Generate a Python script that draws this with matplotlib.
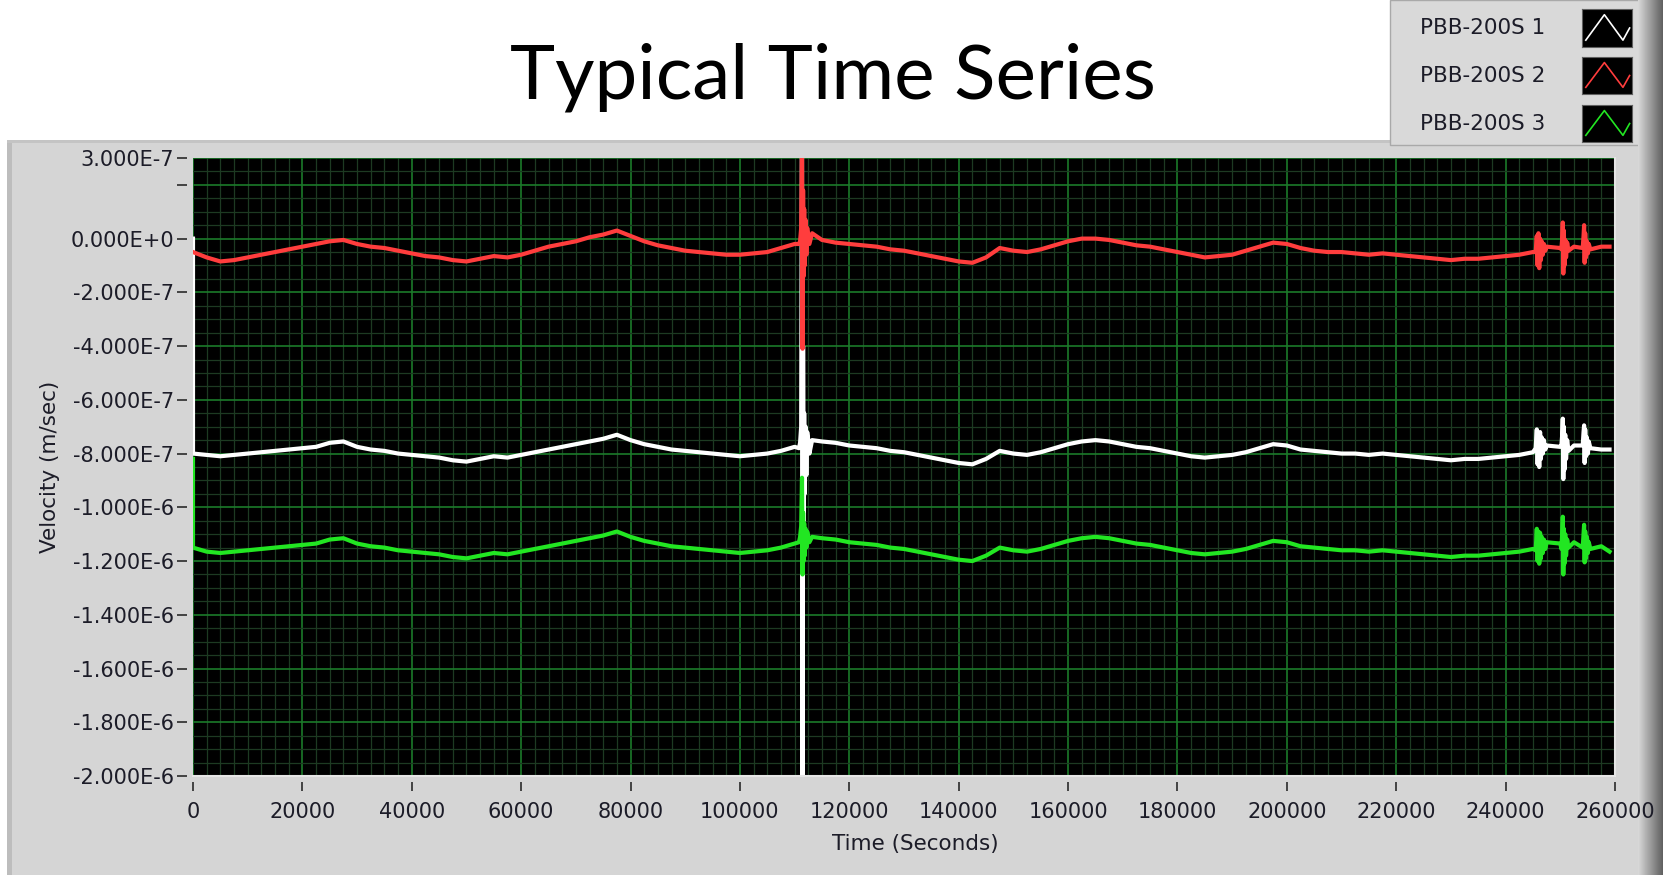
import matplotlib
matplotlib.use("Agg")
import matplotlib.pyplot as plt
from matplotlib.patches import Rectangle
from matplotlib.ticker import MultipleLocator
import numpy as np

# --- data (velocity in units of 1e-7 m/s) ---
# regular samples every 2500 s, t = 0 .. 257500
red_base = [
    -0.5, -0.7, -0.85, -0.8, -0.7, -0.6, -0.5, -0.4,
    -0.3, -0.2, -0.1, -0.05, -0.2, -0.3, -0.35, -0.45,
    -0.55, -0.65, -0.7, -0.8, -0.85, -0.75, -0.65, -0.7,
    -0.6, -0.45, -0.3, -0.2, -0.1, 0.05, 0.15, 0.3,
    0.1, -0.1, -0.25, -0.35, -0.45, -0.5, -0.55, -0.6,
    -0.6, -0.55, -0.5, -0.35, -0.2, 0.1, -0.05, -0.15,
    -0.2, -0.25, -0.3, -0.4, -0.45, -0.55, -0.65, -0.75,
    -0.85, -0.9, -0.7, -0.35, -0.45, -0.5, -0.4, -0.25,
    -0.1, 0.0, 0.0, -0.05, -0.15, -0.25, -0.3, -0.4,
    -0.5, -0.6, -0.7, -0.65, -0.6, -0.45, -0.3, -0.15,
    -0.2, -0.35, -0.45, -0.5, -0.5, -0.55, -0.6, -0.55,
    -0.6, -0.65, -0.7, -0.75, -0.8, -0.75, -0.75, -0.7,
    -0.65, -0.6, -0.5, -0.3, -0.35, -0.3, -0.25, -0.3,
]
white_base = [
    -8.0, -8.05, -8.1, -8.05, -8.0, -7.95, -7.9, -7.85,
    -7.8, -7.75, -7.6, -7.55, -7.75, -7.85, -7.9, -8.0,
    -8.05, -8.1, -8.15, -8.25, -8.3, -8.2, -8.1, -8.15,
    -8.05, -7.95, -7.85, -7.75, -7.65, -7.55, -7.45, -7.3,
    -7.5, -7.65, -7.75, -7.85, -7.9, -7.95, -8.0, -8.05,
    -8.1, -8.05, -8.0, -7.9, -7.75, -7.5, -7.55, -7.6,
    -7.7, -7.75, -7.8, -7.9, -7.95, -8.05, -8.15, -8.25,
    -8.35, -8.4, -8.2, -7.9, -8.0, -8.05, -7.95, -7.8,
    -7.65, -7.55, -7.5, -7.55, -7.65, -7.75, -7.8, -7.9,
    -8.0, -8.1, -8.15, -8.1, -8.05, -7.95, -7.8, -7.65,
    -7.7, -7.85, -7.9, -7.95, -8.0, -8.0, -8.05, -8.0,
    -8.05, -8.1, -8.15, -8.2, -8.25, -8.2, -8.2, -8.15,
    -8.1, -8.05, -7.95, -7.7, -7.75, -7.7, -7.75, -7.85,
]
green_base = [
    -11.5, -11.65, -11.7, -11.65, -11.6, -11.55, -11.5, -11.45,
    -11.4, -11.35, -11.2, -11.15, -11.35, -11.45, -11.5, -11.6,
    -11.65, -11.7, -11.75, -11.85, -11.9, -11.8, -11.7, -11.75,
    -11.65, -11.55, -11.45, -11.35, -11.25, -11.15, -11.05, -10.9,
    -11.1, -11.25, -11.35, -11.45, -11.5, -11.55, -11.6, -11.65,
    -11.7, -11.65, -11.6, -11.5, -11.35, -11.1, -11.15, -11.2,
    -11.3, -11.35, -11.4, -11.5, -11.55, -11.65, -11.75, -11.85,
    -11.95, -12.0, -11.8, -11.5, -11.6, -11.65, -11.55, -11.4,
    -11.25, -11.15, -11.1, -11.15, -11.25, -11.35, -11.4, -11.5,
    -11.6, -11.7, -11.75, -11.7, -11.65, -11.55, -11.4, -11.25,
    -11.3, -11.45, -11.5, -11.55, -11.6, -11.6, -11.65, -11.6,
    -11.65, -11.7, -11.75, -11.8, -11.85, -11.8, -11.8, -11.75,
    -11.7, -11.65, -11.55, -11.3, -11.35, -11.3, -11.35, -11.45,
]
base_time = np.arange(len(red_base)) * 2500.0

# seismic events: start transient, quake near 111500 s, three late bursts
evt_t = [0,
         110800, 111000, 111200, 111350, 111450, 111550, 111650, 111750,
         111850, 112000, 112150, 112300, 112700, 113200,
         245500, 245700, 245850, 246000, 246150, 246300, 246450, 246600,
         246800, 247000, 247250,
         250200, 250350, 250450, 250550, 250650, 250750, 250900, 251050,
         251250, 251500,
         254100, 254250, 254350, 254450, 254550, 254700, 254850, 255050,
         255200, 255500, 259000]
red_evt_v = [-0.5,
             -0.2, -0.1, 0.4, 3.5, -4.1, 1.8, -1.4, 1.1,
             -1.0, 0.7, -0.6, 0.4, -0.2, 0.2,
             -0.5, 0.1, -1.0, 0.2, -1.1, 0.0, -0.8, -0.1,
             -0.6, -0.2, -0.45,
             -0.4, 0.0, 0.6, -1.3, 0.3, -1.0, -0.05, -0.7,
             -0.15, -0.45,
             -0.35, 0.1, 0.5, -0.9, 0.2, -0.7, -0.1, -0.55,
             -0.2, -0.4, -0.3]
white_evt_v = [0.0,
               -7.8, -7.6, -7.0, 5.0, -22.0, -4.0, -10.5, -6.5,
               -9.5, -7.0, -8.8, -7.2, -8.0, -7.5,
               -7.8, -7.1, -8.4, -7.3, -8.5, -7.2, -8.2, -7.4,
               -8.0, -7.5, -7.85,
               -7.7, -7.3, -6.7, -8.95, -7.0, -8.6, -7.3, -8.2,
               -7.5, -7.9,
               -7.7, -7.2, -6.95, -8.35, -7.1, -8.1, -7.4, -8.0,
               -7.55, -7.8, -7.85]
green_evt_v = [-8.2,
               -11.3, -11.1, -10.7, -8.9, -12.5, -10.2, -12.0, -10.6,
               -11.8, -10.8, -11.5, -10.9, -11.3, -11.1,
               -11.6, -10.8, -12.0, -10.9, -12.1, -10.95, -11.9, -11.1,
               -11.7, -11.2, -11.55,
               -11.55, -11.0, -10.35, -12.5, -10.8, -12.1, -11.0, -11.8,
               -11.2, -11.5,
               -11.5, -11.0, -10.65, -12.05, -10.9, -11.9, -11.1, -11.7,
               -11.3, -11.55, -11.65]

series_names = ["PBB-200S 1", "PBB-200S 2", "PBB-200S 3"]
series_colors = ["#ffffff", "#ff3d3d", "#22e622"]

x_ticks = list(range(0, 260001, 20000))
y_ticks = [3e-7, 2e-7, 0.0, -2e-7, -4e-7, -6e-7, -8e-7, -1e-6,
           -1.2e-6, -1.4e-6, -1.6e-6, -1.8e-6, -2e-6]
y_labels = ["3.000E-7", "", "0.000E+0", "-2.000E-7", "-4.000E-7", "-6.000E-7",
            "-8.000E-7", "-1.000E-6", "-1.200E-6", "-1.400E-6", "-1.600E-6",
            "-1.800E-6", "-2.000E-6"]


def build(base, ev):
    # events first so that the start transient sorts ahead of the t=0 sample
    t = np.concatenate([np.asarray(evt_t, float), base_time])
    v = np.concatenate([np.asarray(ev, float), np.asarray(base, float)])
    order = np.argsort(t, kind="stable")
    return t[order], v[order] * 1e-7


W, H = 1663, 875
fig = plt.figure(figsize=(W / 100, H / 100), dpi=100)
fig.patch.set_facecolor("white")


def px_rect(x0, y0, x1, y1, **kw):
    # pixel box measured from the top-left corner
    fig.add_artist(Rectangle((x0 / W, 1 - y1 / H), (x1 - x0) / W, (y1 - y0) / H,
                             transform=fig.transFigure, **kw))


# grey instrument panel
px_rect(7, 140, W, H, facecolor="#d5d5d5", edgecolor="none", zorder=-5)
px_rect(7, 140, 12, H, facecolor="#bdbdbd", edgecolor="none", zorder=-4)
px_rect(7, 140, W, 143, facecolor="#c4c4c4", edgecolor="none", zorder=-4)
px_rect(1390, 0, 1645, 145, facecolor="#d9d9d9", edgecolor="#a9a9a9", lw=1, zorder=-4)
ax_g = fig.add_axes([1638 / W, 0, 25 / W, 1], zorder=-3)
ax_g.imshow(np.linspace(0.84, 0.38, 25)[None, :], cmap="gray", vmin=0, vmax=1, aspect="auto")
ax_g.axis("off")

fig.text(833 / W, 1 - 98 / H, "Typical Time Series", ha="center", va="baseline",
         fontsize=55, family="Lato", color="black")

# legend
legend_rows = [(9, 47), (57, 94), (105, 142)]
for name, color, (y0, y1) in zip(series_names, series_colors, legend_rows):
    fig.text(1420 / W, 1 - (y0 + y1) / 2 / H, name, ha="left", va="center",
             fontsize=15.5, color="#1c1c28")
    ax_s = fig.add_axes([1582 / W, 1 - y1 / H, 50 / W, (y1 - y0) / H])
    ax_s.set_facecolor("black")
    ax_s.plot([0.08, 0.47, 0.86, 1.0], [0.18, 0.85, 0.18, 0.5], color=color, lw=1.2)
    ax_s.set_xlim(0, 1.05)
    ax_s.set_ylim(0, 1)
    ax_s.set_xticks([])
    ax_s.set_yticks([])
    for s in ax_s.spines.values():
        s.set_color("#606060")

# main graph
ax = fig.add_axes([193 / W, 1 - 776 / H, 1422 / W, 618 / H])
ax.set_facecolor("black")

t_w, v_w = build(white_base, white_evt_v)
t_r, v_r = build(red_base, red_evt_v)
t_g, v_g = build(green_base, green_evt_v)
ax.plot(t_w, v_w, color=series_colors[0], lw=3.0)
ax.plot(t_r, v_r, color=series_colors[1], lw=3.0)
ax.plot(t_g, v_g, color=series_colors[2], lw=3.0)

ax.set_xlim(0, 260000)
ax.set_ylim(-2e-6, 3e-7)
ax.set_xticks(x_ticks)
ax.set_xticklabels([str(x) for x in x_ticks])
ax.set_yticks(y_ticks)
ax.set_yticklabels(y_labels)
ax.xaxis.set_minor_locator(MultipleLocator(2500))
ax.yaxis.set_minor_locator(MultipleLocator(5e-8))
ax.tick_params(which="minor", length=0)
ax.tick_params(axis="y", which="major", length=7.5, width=1.2, color="#2a2a2a",
               pad=2, labelsize=15, labelcolor="#1c1c28")
ax.tick_params(axis="x", which="major", length=6.5, width=1.2, color="#2a2a2a",
               pad=8, labelsize=15, labelcolor="#1c1c28")

ax.set_axisbelow(True)
ax.grid(which="minor", color="#1d3a22", lw=0.9)
ax.grid(which="major", color="#1b7a2a", lw=1.2)

for s in ["left", "bottom"]:
    ax.spines[s].set_position(("outward", 4))
    ax.spines[s].set_color("none")
ax.spines["top"].set_color("none")
ax.spines["right"].set_color("#e6e6e6")
ax.spines["right"].set_linewidth(1.5)
ax.plot([0, 1], [0, 0], transform=ax.transAxes, color="#e6e6e6", lw=1.5, clip_on=False)

ax.set_ylabel("Velocity (m/sec)", fontsize=15.5, color="#1c1c28", va="center")
ax.yaxis.set_label_coords(-0.1006, 0.5)
ax.set_xlabel("Time (Seconds)", fontsize=15.5, color="#1c1c28", va="center")
ax.xaxis.set_label_coords(0.508, -0.110)

fig.savefig("out.png", dpi=100)
